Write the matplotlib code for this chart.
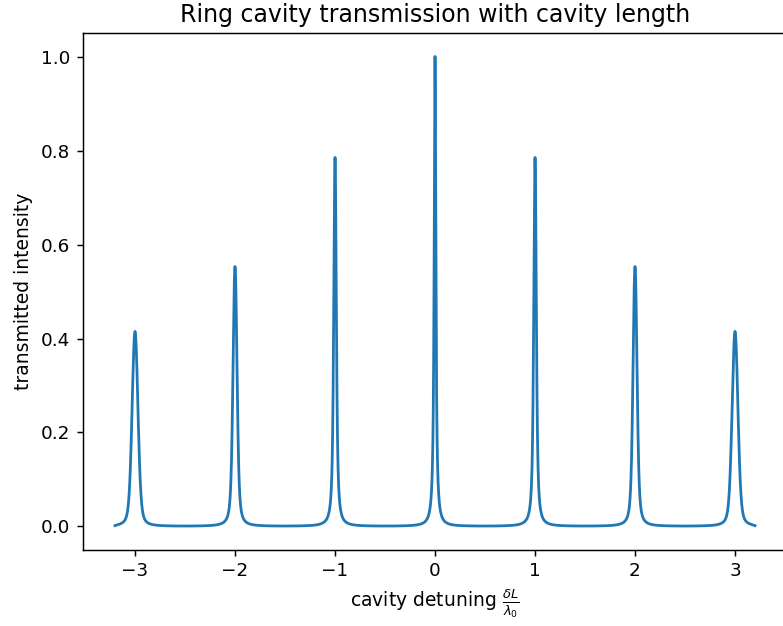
import numpy as np
import matplotlib
matplotlib.use("Agg")
import matplotlib.pyplot as plt

# Resonance orders, their peak transmission and line widths (in units of lambda_0)
orders = [-3, -2, -1, 0, 1, 2, 3]
peak_heights = [0.415, 0.553, 0.785, 1.0, 0.785, 0.553, 0.415]
gauss_fwhm = [0.058, 0.036, 0.018, 0.0, 0.018, 0.036, 0.058]
lorentz_fwhm = 0.02
scan_range = (-3.2, 3.2)

dx = 0.0005
x = np.arange(scan_range[0], scan_range[1] + dx / 2, dx)
y = np.zeros_like(x)

for c, h, fg in zip(orders, peak_heights, gauss_fwhm):
    d = x - c
    prof = 1.0 / (1.0 + (2.0 * d / lorentz_fwhm) ** 2)
    if fg > 0:
        sigma = fg / 2.3548
        k = np.arange(-6 * sigma, 6 * sigma + dx / 2, dx)
        kern = np.exp(-0.5 * (k / sigma) ** 2)
        kern /= kern.sum()
        prof = np.convolve(prof, kern, mode="same")
    prof = prof / prof.max() * h
    y += prof

s = 1.33
fig = plt.figure(figsize=(7.83, 6.26), dpi=100)
ax = fig.add_axes([83 / 783, (626 - 549.5) / 626, 704 / 783, 516.5 / 626])
ax.plot(x, y, color="#1f77b4", lw=1.5 * s)
ax.set_title("Ring cavity transmission with cavity length", fontsize=17, pad=6 * s)
ax.set_xlabel(r"cavity detuning $\frac{\delta L}{\lambda_0}$", fontsize=13.5, labelpad=4 * s)
ax.set_ylabel("transmitted intensity", fontsize=13.5, labelpad=4 * s)
ax.tick_params(labelsize=13.2, width=0.8 * s, length=3.5 * s, pad=3.5 * s)
for sp in ax.spines.values():
    sp.set_linewidth(0.8 * s)
fig.savefig("out.png", dpi=100)
